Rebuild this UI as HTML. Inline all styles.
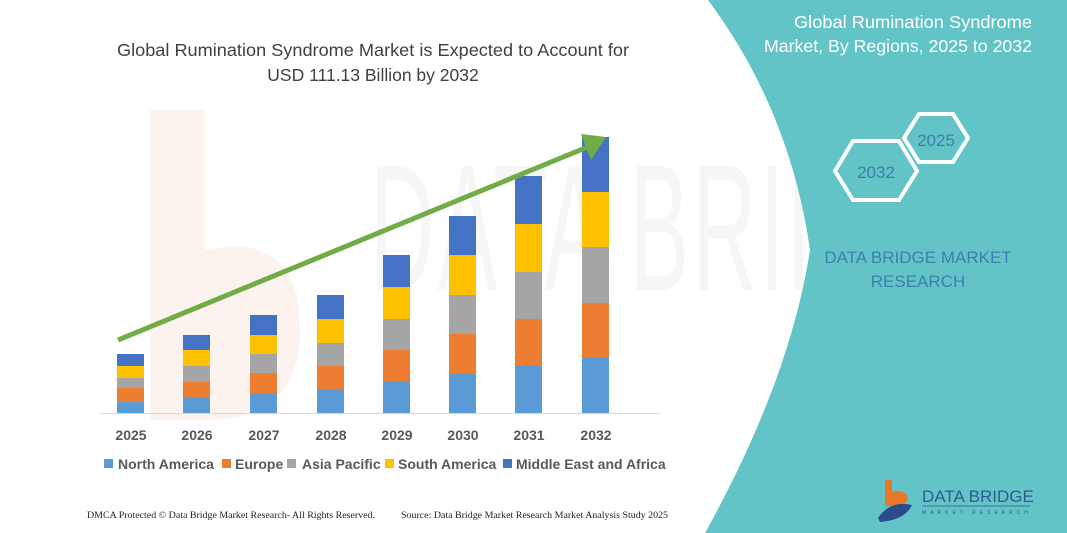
<!DOCTYPE html>
<html><head><meta charset="utf-8"><style>
html,body{margin:0;padding:0;background:#fff;}
svg{display:block;font-family:"Liberation Sans",sans-serif;}
</style></head><body>
<svg width="1067" height="533" viewBox="0 0 1067 533" xmlns="http://www.w3.org/2000/svg">
<rect width="1067" height="533" fill="#fff"/>
<!-- faint watermark -->
<path d="M150,110 L205,110 L205,250 Q300,230 300,330 Q300,420 205,420 L150,420 Z" fill="#fdf3ee"/>
<text x="370" y="290" font-size="180" fill="#f6f6f6" letter-spacing="6" textLength="620" lengthAdjust="spacingAndGlyphs">DATA BRIDGE</text>
<!-- teal panel -->
<path d="M708,0 L1067,0 L1067,533 L705,533 Q790,380 810,250 Q790,110 708,0 Z" fill="#63c4c8"/>
<!-- title -->
<g fill="#404040" font-size="17.5" text-anchor="middle">
<text x="373" y="56" textLength="512" lengthAdjust="spacingAndGlyphs">Global Rumination Syndrome Market is Expected to Account for</text>
<text x="373" y="81">USD 111.13 Billion by 2032</text>
</g>
<g fill="#fff" font-size="17.5" text-anchor="end">
<text x="1032" y="28" textLength="238" lengthAdjust="spacingAndGlyphs">Global Rumination Syndrome</text>
<text x="1032" y="52" textLength="268" lengthAdjust="spacingAndGlyphs">Market, By Regions, 2025 to 2032</text>
</g>
<!-- hexagons -->
<polygon points="904,138 919,114 953,114 968,138 953,162 919,162" fill="none" stroke="#fff" stroke-width="4"/>
<polygon points="835,171 853,141 899,141 917,171 899,200 853,200" fill="#63c4c8" stroke="#fff" stroke-width="4"/>
<text x="936" y="146" font-size="17" fill="#3b7fb0" text-anchor="middle">2025</text>
<text x="876" y="178" font-size="17" fill="#3b7fb0" text-anchor="middle">2032</text>
<g fill="#3b7fb0" font-size="17" text-anchor="middle">
<text x="918" y="263">DATA BRIDGE MARKET</text>
<text x="918" y="287">RESEARCH</text>
</g>
<!-- logo -->
<path d="M885,480 L892,480 L892,492 Q905,488 908,498 Q906,508 892,506 L885,506 Z" fill="#e8792b"/>
<path d="M878,518 Q890,500 912,505 Q905,520 880,522 Z" fill="#2a4c8c"/>
<text x="922" y="502" font-size="17" fill="#2e5b8f">DATA BRIDGE</text>
<line x1="922" y1="506" x2="1030" y2="506" stroke="#2e5b8f" stroke-width="0.8"/>
<text x="922" y="514" font-size="5" fill="#2e5b8f" letter-spacing="4">MARKET RESEARCH</text>
<!-- bars -->
<g>
<rect x="117" y="354" width="27" height="12" fill="#4472c4"/><rect x="117" y="366" width="27" height="12" fill="#ffc000"/><rect x="117" y="378" width="27" height="10" fill="#a5a5a5"/><rect x="117" y="388" width="27" height="14" fill="#ed7d31"/><rect x="117" y="402" width="27" height="11" fill="#5b9bd5"/>
<rect x="183" y="335" width="27" height="15" fill="#4472c4"/><rect x="183" y="350" width="27" height="16" fill="#ffc000"/><rect x="183" y="366" width="27" height="16" fill="#a5a5a5"/><rect x="183" y="382" width="27" height="16" fill="#ed7d31"/><rect x="183" y="398" width="27" height="15" fill="#5b9bd5"/>
<rect x="250" y="315" width="27" height="20" fill="#4472c4"/><rect x="250" y="335" width="27" height="19" fill="#ffc000"/><rect x="250" y="354" width="27" height="19" fill="#a5a5a5"/><rect x="250" y="373" width="27" height="20" fill="#ed7d31"/><rect x="250" y="393" width="27" height="20" fill="#5b9bd5"/>
<rect x="317" y="295" width="27" height="24" fill="#4472c4"/><rect x="317" y="319" width="27" height="24" fill="#ffc000"/><rect x="317" y="343" width="27" height="23" fill="#a5a5a5"/><rect x="317" y="366" width="27" height="24" fill="#ed7d31"/><rect x="317" y="390" width="27" height="23" fill="#5b9bd5"/>
<rect x="383" y="255" width="27" height="32" fill="#4472c4"/><rect x="383" y="287" width="27" height="32" fill="#ffc000"/><rect x="383" y="319" width="27" height="31" fill="#a5a5a5"/><rect x="383" y="350" width="27" height="32" fill="#ed7d31"/><rect x="383" y="382" width="27" height="31" fill="#5b9bd5"/>
<rect x="449" y="216" width="27" height="39" fill="#4472c4"/><rect x="449" y="255" width="27" height="40" fill="#ffc000"/><rect x="449" y="295" width="27" height="39" fill="#a5a5a5"/><rect x="449" y="334" width="27" height="40" fill="#ed7d31"/><rect x="449" y="374" width="27" height="39" fill="#5b9bd5"/>
<rect x="515" y="176" width="27" height="48" fill="#4472c4"/><rect x="515" y="224" width="27" height="48" fill="#ffc000"/><rect x="515" y="272" width="27" height="47" fill="#a5a5a5"/><rect x="515" y="319" width="27" height="47" fill="#ed7d31"/><rect x="515" y="366" width="27" height="47" fill="#5b9bd5"/>
<rect x="582" y="137" width="27" height="55" fill="#4472c4"/><rect x="582" y="192" width="27" height="55" fill="#ffc000"/><rect x="582" y="247" width="27" height="56" fill="#a5a5a5"/><rect x="582" y="303" width="27" height="55" fill="#ed7d31"/><rect x="582" y="358" width="27" height="55" fill="#5b9bd5"/>
</g>
<line x1="100" y1="413.5" x2="660" y2="413.5" stroke="#d9d9d9" stroke-width="1"/>
<!-- arrow -->
<line x1="118" y1="340" x2="590" y2="146" stroke="#70ad47" stroke-width="5"/>
<polygon points="606,137 581,134 591,160" fill="#70ad47"/>
<!-- axis labels -->
<g font-size="14" font-weight="bold" fill="#595959" text-anchor="middle">
<text x="131" y="440">2025</text><text x="197" y="440">2026</text><text x="264" y="440">2027</text><text x="331" y="440">2028</text>
<text x="397" y="440">2029</text><text x="463" y="440">2030</text><text x="529" y="440">2031</text><text x="596" y="440">2032</text>
</g>
<g font-size="14" font-weight="bold" fill="#595959">
<rect x="104" y="459" width="9" height="9" fill="#5b9bd5"/><text x="118" y="469">North America</text>
<rect x="222" y="459" width="9" height="9" fill="#ed7d31"/><text x="235" y="469">Europe</text>
<rect x="287" y="459" width="9" height="9" fill="#a5a5a5"/><text x="302" y="469">Asia Pacific</text>
<rect x="385" y="459" width="9" height="9" fill="#ffc000"/><text x="398" y="469">South America</text>
<rect x="503" y="459" width="9" height="9" fill="#4472c4"/><text x="516" y="469">Middle East and Africa</text>
</g>
<g font-family="Liberation Serif,serif" font-size="9.5" fill="#222">
<text x="87" y="518" textLength="288" lengthAdjust="spacingAndGlyphs">DMCA Protected © Data Bridge Market Research- All Rights Reserved.</text>
<text x="401" y="518" textLength="267" lengthAdjust="spacingAndGlyphs">Source: Data Bridge Market Research Market Analysis Study 2025</text>
</g>
</svg>
</body></html>
